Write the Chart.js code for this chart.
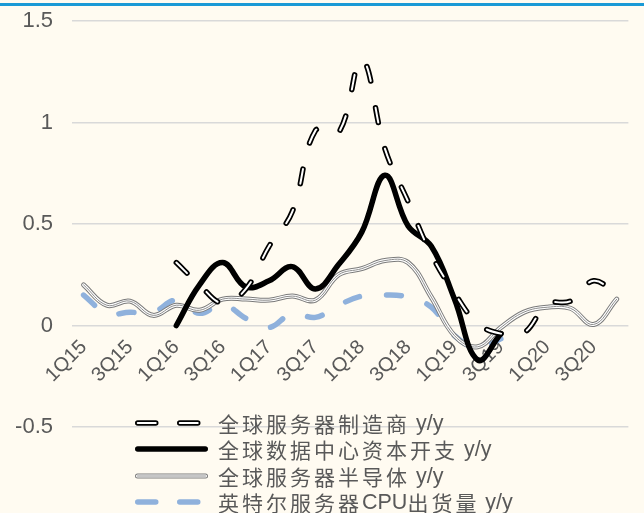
<!DOCTYPE html>
<html>
<head>
<meta charset="utf-8">
<script src="https://cdn.jsdelivr.net/npm/chart.js@4.4.1/dist/chart.umd.min.js"></script>
<style>
  html, body { margin: 0; padding: 0; background: #FFFBF1; }
  #wrap { position: relative; width: 644px; height: 513px; overflow: hidden; background: #FFFBF1; }
  #wrap canvas { position: absolute; left: 0; top: 0; }
  #topRule { position: absolute; left: 0; top: 3px; width: 644px; height: 3px; background: #1A9AD6; }
</style>
</head>
<body>
<div id="wrap">
  <canvas id="chart" width="644" height="513"></canvas>
  <div id="topRule"></div>
</div>
<script>
// Quarterly categories
const quarters = [
  '1Q15','2Q15','3Q15','4Q15','1Q16','2Q16','3Q16','4Q16',
  '1Q17','2Q17','3Q17','4Q17','1Q18','2Q18','3Q18','4Q18',
  '1Q19','2Q19','3Q19','4Q19','1Q20','2Q20','3Q20','4Q20'
];

// Series names (legend order)
const seriesNames = [
  '全球服务器制造商 y/y',
  '全球数据中心资本开支 y/y',
  '全球服务器半导体 y/y',
  '英特尔服务器CPU出货量 y/y'
];

// Year-over-year growth values
const serverMakers = [
  null, null, null, null, 0.31, 0.20, 0.11, 0.18,
  0.39, 0.56, 0.96, 0.95, 1.31, 0.87, 0.61, 0.35,
  0.16, 0.01, -0.04, -0.035, 0.105, 0.12, 0.22, 0.15
];
const dcCapex = [
  null, null, null, null, 0.00, 0.20, 0.31, 0.19,
  0.22, 0.29, 0.18, 0.30, 0.46, 0.74, 0.49, 0.39,
  0.13, -0.17, -0.04, null, null, null, null, null
];
const serverSemis = [
  0.20, 0.10, 0.12, 0.05, 0.10, 0.075, 0.13, 0.13,
  0.125, 0.145, 0.125, 0.25, 0.28, 0.32, 0.31, 0.14,
  -0.05, -0.105, -0.01, 0.066, 0.09, 0.085, 0.005, 0.13
];
const intelCpu = [
  0.15, 0.06, 0.065, 0.065, 0.125, 0.06, 0.105, 0.035,
  -0.01, 0.06, 0.04, 0.10, 0.145, 0.15, 0.14, 0.09,
  -0.05, -0.11, -0.065, null, null, null, null, null
];

// Y axis range
const yMin = -0.5, yMax = 1.5, yStep = 0.5;

// Line styles
const DASH = [15, 27];
const INK = '#595959';
const styles = {
  makers: [ { color: '#000000', width: 5.5 }, { color: '#FFFFFF', width: 2 } ],
  capex:  [ { color: '#000000', width: 5.5 } ],
  semis:  [ { color: '#7A7A7A', width: 5 }, { color: '#FFFFFF', width: 3 }, { color: '#8C8C8C', width: 1 } ],
  cpu:    [ { color: '#8FB1DC', width: 5.5 } ]
};

// One line layer per stroke of a (possibly compound) series
function layer(label, data, stroke, dash) {
  return {
    label, data,
    borderColor: stroke.color,
    borderWidth: stroke.width,
    borderDash: dash || [],
    borderCapStyle: 'round',
    borderJoinStyle: 'round',
    pointRadius: 0,
    pointHoverRadius: 0,
    tension: 0.4,
    fill: false
  };
}

// Datasets: earlier entries are painted on top
const datasets = [];
styles.makers.slice().reverse().forEach(s => datasets.push(layer(seriesNames[0], serverMakers, s, DASH)));
styles.capex.forEach(s => datasets.push(layer(seriesNames[1], dcCapex, s)));
styles.semis.slice().reverse().forEach(s => datasets.push(layer(seriesNames[2], serverSemis, s)));
styles.cpu.forEach(s => datasets.push(layer(seriesNames[3], intelCpu, s, DASH)));

// Legend rows: sample strokes + label
const legendRows = [
  { text: seriesNames[0], strokes: styles.makers, dash: [18, 24] },
  { text: seriesNames[1], strokes: styles.capex, dash: [] },
  { text: seriesNames[2], strokes: styles.semis, dash: [] },
  { text: seriesNames[3], strokes: styles.cpu, dash: [18, 24] }
];

function drawMixedText(ctx, text, x, y) {
  for (const ch of text) {
    if (/[\u2E80-\uFFFF]/.test(ch)) {
      ctx.font = '21px "Noto Sans CJK SC"';
      ctx.fillText(ch, x, y);
      x += 24;
    } else {
      ctx.font = '21.5px "Liberation Sans", Arial, sans-serif';
      ctx.fillText(ch, x, y);
      x += ctx.measureText(ch).width;
    }
  }
}

const legendPlugin = {
  id: 'seriesLegend',
  afterDraw(chart) {
    const ctx = chart.ctx;
    const x0 = 135, x1 = 208, textX = 218;
    const rowY = [423, 449, 476, 502];
    ctx.save();
    legendRows.forEach((row, i) => {
      const y = rowY[i];
      row.strokes.forEach(s => {
        ctx.beginPath();
        ctx.lineWidth = s.width;
        ctx.strokeStyle = s.color;
        ctx.lineCap = 'round';
        ctx.setLineDash(row.dash);
        const pad = row.strokes[0].width / 2;
        ctx.moveTo(x0 + pad, y);
        ctx.lineTo(x1 - pad, y);
        ctx.stroke();
      });
      ctx.setLineDash([]);
      ctx.fillStyle = INK;
      ctx.textBaseline = 'middle';
      ctx.textAlign = 'left';
      drawMixedText(ctx, row.text, textX, y + 1);
    });
    ctx.restore();
  }
};

new Chart(document.getElementById('chart'), {
  type: 'line',
  data: { labels: quarters, datasets },
  plugins: [legendPlugin],
  options: {
    responsive: false,
    devicePixelRatio: 1,
    animation: false,
    events: [],
    layout: { padding: { left: 15, right: 12, top: 21, bottom: 86 } },
    plugins: {
      legend: { display: false },
      tooltip: { enabled: false },
      title: { display: false }
    },
    scales: {
      x: {
        type: 'category',
        offset: true,
        position: { y: 0 },
        grid: { display: false, drawTicks: false },
        border: { display: false },
        ticks: {
          autoSkip: false,
          minRotation: 45,
          maxRotation: 45,
          padding: 10,
          color: INK,
          font: { family: '"Liberation Sans", Arial, sans-serif', size: 20 },
          callback: (v, i) => (i % 2 === 0 ? quarters[i] : '')
        }
      },
      y: {
        min: yMin,
        max: yMax,
        afterFit: scale => {
          scale.width = 57;
          scale.paddingTop = 10;
          scale.paddingBottom = 10;
        },
        grid: { color: '#D9D9D9', lineWidth: 1.5, drawTicks: false },
        border: { display: false },
        ticks: {
          stepSize: yStep,
          padding: 19,
          color: INK,
          font: { family: '"Liberation Sans", Arial, sans-serif', size: 22 },
          callback: v => String(v)
        }
      }
    }
  }
});
</script>
</body>
</html>
